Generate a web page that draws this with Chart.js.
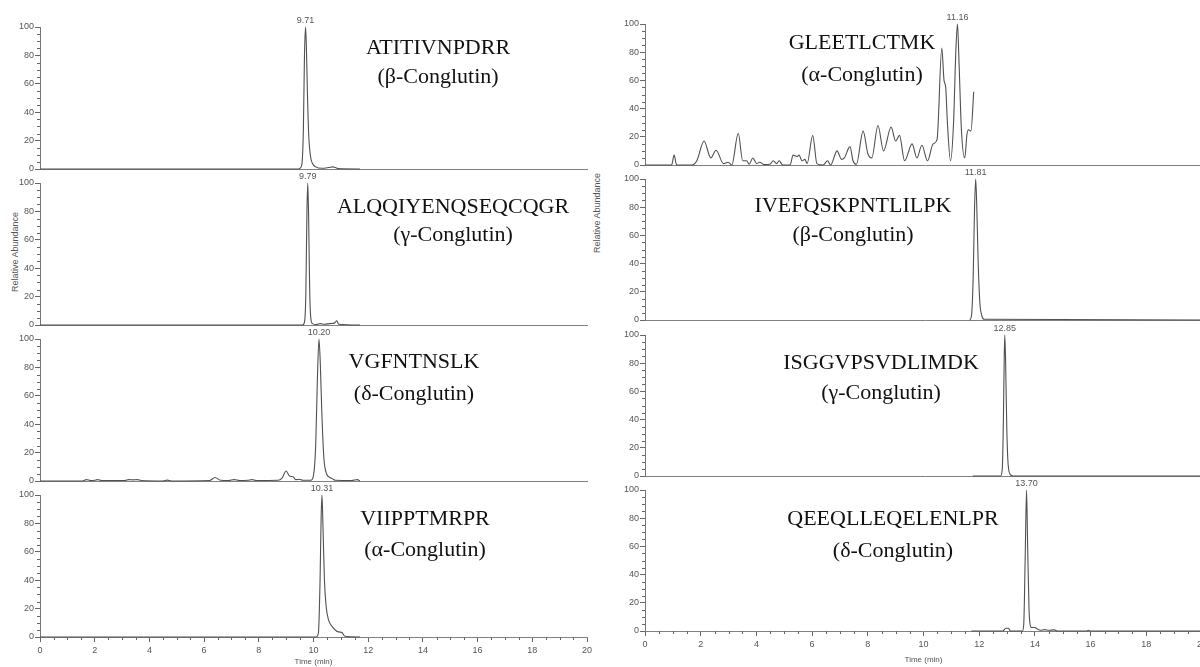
<!DOCTYPE html>
<html lang="en">
<head>
<meta charset="UTF-8">
<title>Conglutin peptide chromatograms</title>
<script src="https://cdn.jsdelivr.net/npm/chart.js@4.4.0/dist/chart.umd.min.js"></script>
<style>
  html, body { margin: 0; padding: 0; background: #fff; overflow: hidden; width: 1200px; height: 667px; }
  canvas { position: absolute; left: 0; top: 0; }
  .pep { position: absolute; font-family: "Liberation Serif", "Times New Roman", serif; font-size: 22px; color: #111;
         white-space: nowrap; line-height: 1; transform: translate(-50%, -50%); }
  .ylab { position: absolute; font-family: Arial, "Liberation Sans", sans-serif; font-size: 9px; color: #555;
          white-space: nowrap; transform: translate(-50%, -50%) rotate(-90deg); }
</style>
</head>
<body>
<div class="ylab" style="left:15px; top:252px">Relative Abundance</div>
<div class="ylab" style="left:597px; top:213px">Relative Abundance</div>
<script>

// peptide names, proteins and peak apex times (min)
const peptides = ["ATITIVNPDRR", "ALQQIYENQSEQCQGR", "VGFNTNSLK", "VIIPPTMRPR",
                  "GLEETLCTMK", "IVEFQSKPNTLILPK", "ISGGVPSVDLIMDK", "QEEQLLEQELENLPR"];
const proteins = ["(β-Conglutin)", "(γ-Conglutin)", "(δ-Conglutin)", "(α-Conglutin)",
                  "(α-Conglutin)", "(β-Conglutin)", "(γ-Conglutin)", "(δ-Conglutin)"];
const peakTimes = [9.71, 9.79, 10.20, 10.31, 11.16, 11.81, 12.85, 13.70];

// x axis ticks (min) and y axis ticks (%)
const timeTicks = [0, 2, 4, 6, 8, 10, 12, 14, 16, 18, 20];
const abundTicks = [0, 20, 40, 60, 80, 100];

// traces: time (min) / relative abundance (%)
const atitTime  = [0, 9.45, 9.53, 9.58, 9.63, 9.67, 9.71, 9.74, 9.78, 9.83, 9.89, 9.96, 10.08, 10.3, 10.55, 10.7, 10.8, 10.9, 11.7];
const atitAbund = [0, 0,    1,    4,    28,   80,   100,  86,   52,   22,   9,    4,    1.5,   0.5,  1,     1.5,  1,    0.3,  0];

const alqqTime  = [0, 9.6, 9.67, 9.72, 9.76, 9.79, 9.82, 9.86, 9.9, 9.96, 10.1, 10.25, 10.4, 10.6, 10.78, 10.85, 10.92, 11.7];
const alqqAbund = [0, 0,   2,    22,   80,   100,  78,   25,   5,   1,    0.3,  1,     0.5,  1,    1.5,   3,     0.5,   0];

const vgfnTime  = [0, 1.55, 1.7, 1.85, 2.0, 2.1, 2.25, 3.1, 3.25, 3.4, 3.55, 3.7, 4.5, 4.65, 4.8, 6.2, 6.4, 6.6, 6.9, 7.1,
                   7.3, 7.6, 7.75, 7.9, 8.7, 8.85, 9.0, 9.12, 9.25, 9.35, 9.5, 9.6, 9.9, 10.0, 10.08, 10.14, 10.2, 10.25,
                   10.31, 10.38, 10.46, 10.55, 10.7, 10.8, 11.4, 11.6, 11.7];
const vgfnAbund = [0, 0,    1,   0.3,  0.5, 1,   0.3,  0.3, 1,    0.8, 1,    0.3, 0,   0.6,  0,   0.3, 2.5, 0.5, 0.3, 1,
                   0.3, 0.5, 1,    0.3, 0.5, 2,    7,   3.5,  3,    1,    1.2, 0.5, 0.5, 4,    25,    70,    100,  82,
                   45,    16,    6,     3,     1.5,  0.5,  0.3,  1,    0];

const viipTime  = [0, 10.1, 10.18, 10.24, 10.28, 10.31, 10.35, 10.4, 10.46, 10.55, 10.7, 10.85, 10.95, 11.05, 11.15, 11.7];
const viipAbund = [0, 0,    3,     40,    85,    100,   75,    40,   22,    12,    7,    4,     3.5,   3,     0.5,   0];

const gleeTime  = [0, 0.95, 1.04, 1.13, 1.67, 1.85, 2.11, 2.35, 2.54, 2.8, 2.97, 3.1, 3.33, 3.49, 3.63, 3.72, 3.85, 3.99,
                   4.1, 4.25, 4.46, 4.58, 4.7, 4.79, 4.92, 5.18, 5.29, 5.43, 5.5, 5.61, 5.71, 5.79, 5.99, 6.14, 6.36,
                   6.52, 6.63, 6.86, 7.02, 7.12, 7.32, 7.43, 7.55, 7.79, 7.96, 8.1, 8.32, 8.52, 8.79, 8.95, 9.09, 9.27,
                   9.54, 9.71, 9.89, 10.09, 10.29, 10.43, 10.6, 10.68, 10.74, 10.8, 10.91, 11.02, 11.1, 11.16, 11.22,
                   11.3, 11.42, 11.5, 11.56, 11.64, 11.74];
const gleeAbund = [0, 0,    7,    0,    0,    3,    17,   5,    10.5, 1,   2,    0,   22.5, 3,    3,    0.5,  5,    1,
                   2,   0.3,  0.5,  3,    1,   3,    0,    0,    7,    6,    7,   3,    4,    1,    21,   1,    0,
                   3,    0,    10,   4,    5,    13,   3,    0.5,  24,   8,    5,   28,   10,   27,   17,   21,   3,
                   15,   5,    14,   3,     15,    18,    83,   60,    55,    30,   3,     30,    80,   100,   70,
                   25,   5,     22,   25,    24,    52];

const ivefTime  = [11.6, 11.66, 11.72, 11.77, 11.81, 11.85, 11.9, 11.96, 12.03, 12.12, 20];
const ivefAbund = [0,    3,     30,    80,    100,   80,    40,   12,    3,     0.5,   0];

const isggTime  = [11.7, 12.7, 12.76, 12.8, 12.83, 12.85, 12.88, 12.92, 12.97, 13.05, 13.15, 20];
const isggAbund = [0,    0,    5,     40,   85,    100,   80,    35,    8,     1,     0,     0];

const qeeqTime  = [11.72, 12.85, 12.95, 13.05, 13.12, 13.55, 13.6, 13.65, 13.7, 13.74, 13.79, 13.85, 13.92, 14.0,
                   14.08, 14.2, 14.35, 14.5, 14.7, 14.8, 15.85, 15.92, 16.0, 20];
const qeeqAbund = [0,     0,     2,     2,     0,     0,     5,    50,    100,  60,    15,    3,     2.5,   2.5,
                   1.5,   0.5,  1,     0.5,  0.8,  0,    0,     0.5,   0,    0];

const traceTimes  = [atitTime, alqqTime, vgfnTime, viipTime, gleeTime, ivefTime, isggTime, qeeqTime];
const traceAbunds = [atitAbund, alqqAbund, vgfnAbund, viipAbund, gleeAbund, ivefAbund, isggAbund, qeeqAbund];

// layout of the two columns of panels (page pixels)
const CW = 1210, CH = 667;
const cols = [
  { left: 40,  right: 587,  tops: [27, 183, 339, 495], h: 142, xH: 30, padB: 0,
    text: [[438, 47, 76], [453, 206, 234], [414, 361, 393], [425, 518, 549]] },
  { left: 645, right: 1205, tops: [24, 179, 335, 490], h: 141, xH: 34, padB: 2,
    text: [[862, 42, 74], [853, 205, 234], [881, 362, 392], [893, 518, 550]] }
];

const tickFont = { family: 'Arial, "Liberation Sans", sans-serif', size: 9 };

const extras = {
  id: 'extras',
  afterDraw(chart, args, opts) {
    const { ctx, scales: { x, y } } = chart;
    ctx.save();
    ctx.strokeStyle = '#666';
    ctx.lineWidth = 1;
    ctx.beginPath();
    for (let v = 5; v < 100; v += 5) {
      if (v % 20 === 0) continue;
      const py = Math.round(y.getPixelForValue(v)) + 0.5;
      ctx.moveTo(x.left - 3, py);
      ctx.lineTo(x.left, py);
    }
    if (opts.bottom) {
      for (let t = 0.5; t < 20; t += 0.5) {
        if (t % 2 === 0) continue;
        const px = Math.round(x.getPixelForValue(t)) + 0.5;
        ctx.moveTo(px, y.bottom);
        ctx.lineTo(px, y.bottom + 3);
      }
    }
    ctx.stroke();
    ctx.fillStyle = '#555';
    ctx.font = '9px Arial, "Liberation Sans", sans-serif';
    ctx.textAlign = 'center';
    ctx.textBaseline = 'bottom';
    ctx.fillText(opts.label, x.getPixelForValue(opts.peak), y.getPixelForValue(100) - 2);
    ctx.restore();
  }
};

for (let i = 0; i < 8; i++) {
  const col = cols[Math.floor(i / 4)];
  const row = i % 4;
  const bottom = row === 3;
  const top = col.tops[row];
  const plotBottom = top + col.h;
  const xH = bottom ? col.xH : 0;
  const padB = bottom ? col.padB : CH - plotBottom;

  const canvas = document.createElement('canvas');
  canvas.width = CW;
  canvas.height = CH;
  document.body.appendChild(canvas);

  const points = traceTimes[i].map((t, k) => ({ x: t, y: traceAbunds[i][k] }));

  new Chart(canvas, {
    type: 'line',
    data: {
      datasets: [{
        data: points,
        borderColor: '#505050',
        borderWidth: 1.1,
        pointRadius: 0,
        cubicInterpolationMode: 'monotone',
        fill: false,
        clip: false
      }]
    },
    options: {
      responsive: false,
      animation: false,
      events: [],
      layout: { padding: { left: col.left - 30, right: CW - col.right, top: top, bottom: padB } },
      plugins: {
        legend: { display: false },
        tooltip: { enabled: false },
        extras: { bottom: bottom, peak: peakTimes[i], label: peakTimes[i].toFixed(2) }
      },
      scales: {
        x: {
          type: 'linear',
          min: 0,
          max: 20,
          afterBuildTicks: s => { s.ticks = timeTicks.map(v => ({ value: v })); },
          afterFit: s => { s.height = xH; },
          border: { color: '#808080', width: 1 },
          grid: { drawOnChartArea: false, drawTicks: bottom, tickLength: 5, color: '#666' },
          ticks: { display: bottom, font: tickFont, color: '#555', padding: 3, maxRotation: 0, autoSkip: false },
          title: { display: bottom, text: 'Time (min)', font: { family: tickFont.family, size: 8 }, color: '#555', padding: 0 }
        },
        y: {
          min: 0,
          max: 100,
          afterBuildTicks: s => { s.ticks = abundTicks.map(v => ({ value: v })); },
          afterFit: s => { s.width = 30; },
          border: { color: '#777', width: 1 },
          grid: { drawOnChartArea: false, drawTicks: true, tickLength: 5, color: '#666' },
          ticks: { font: tickFont, color: '#555', padding: 1 }
        }
      }
    },
    plugins: [extras]
  });

  const [cx, y1, y2] = col.text[row];
  const a = document.createElement('div');
  a.className = 'pep';
  a.style.left = cx + 'px';
  a.style.top = y1 + 'px';
  a.textContent = peptides[i];
  document.body.appendChild(a);
  const b = document.createElement('div');
  b.className = 'pep';
  b.style.left = cx + 'px';
  b.style.top = y2 + 'px';
  b.textContent = proteins[i];
  document.body.appendChild(b);
}
</script>
</body>
</html>
